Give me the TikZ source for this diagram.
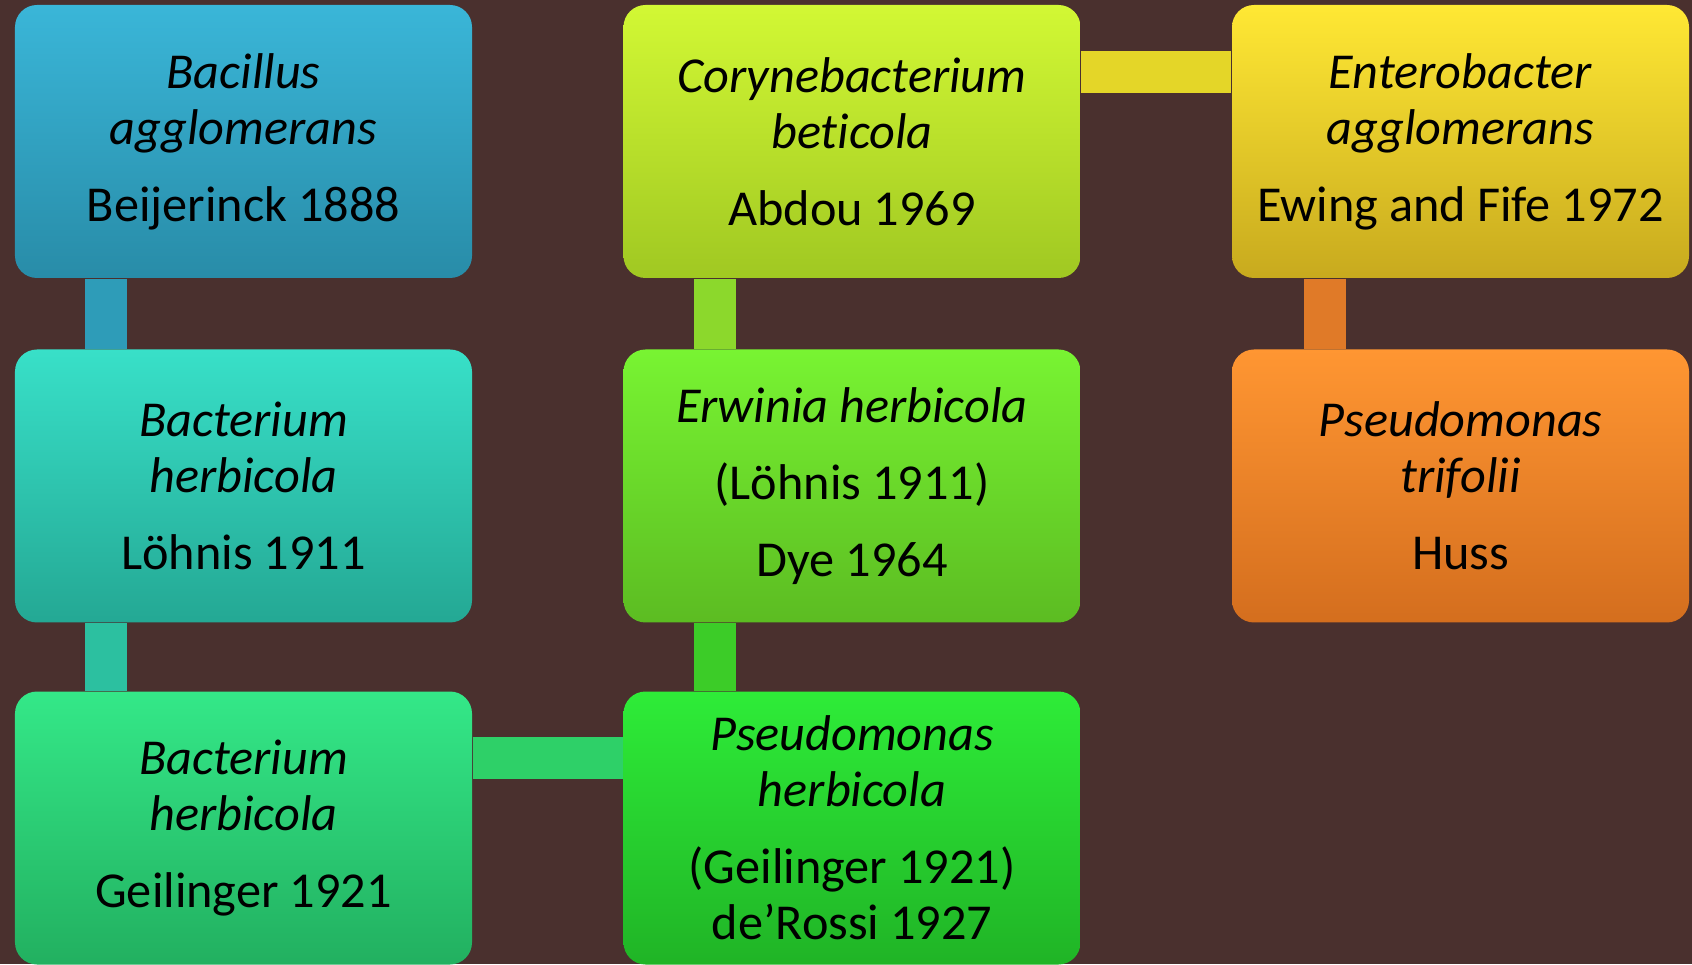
\documentclass[tikz,border=0pt]{standalone}
\usepackage{fontspec}
\setmainfont{Carlito}[RawFeature={-liga;-clig;-calt}]
\definecolor{bgbrown}{HTML}{4A302E}
\definecolor{blueT}{HTML}{3AB6D8}\definecolor{blueB}{HTML}{288CA8}
\definecolor{tealT}{HTML}{38E0C8}\definecolor{tealB}{HTML}{24A894}
\definecolor{mintT}{HTML}{34E888}\definecolor{mintB}{HTML}{22B060}
\definecolor{grnT}{HTML}{2EEC38}\definecolor{grnB}{HTML}{20B426}
\definecolor{limeT}{HTML}{78F432}\definecolor{limeB}{HTML}{5CBC22}
\definecolor{chartT}{HTML}{D2F834}\definecolor{chartB}{HTML}{A0C822}
\definecolor{yelT}{HTML}{FFE834}\definecolor{yelB}{HTML}{C8AA1E}
\definecolor{orT}{HTML}{FF9632}\definecolor{orB}{HTML}{D46E1E}
\tikzset{
  box/.style={rounded corners=0.22cm, minimum width=4.57cm, minimum height=2.73cm,
    inner sep=0pt, text width=4.4cm, align=center,
    font=\fontsize{14.3}{16}\selectfont,
    execute at begin node={\spaceskip=0.22em\relax}},
  link/.style={line width=0.42cm}
}
\begin{document}
\begin{tikzpicture}
  \fill[bgbrown] (0,0) rectangle (16.92,9.64);
  \useasboundingbox (0,0) rectangle (16.92,9.64);

  % first column
  \node[box, top color=blueT, bottom color=blueB] (bacillus) at (2.435,8.225)
    {\textit{Bacillus}\\\textit{agglomerans}\\[5.9pt]Beijerinck 1888};
  \node[box, top color=tealT, bottom color=tealB] (bactA) at (2.435,4.78)
    {\textit{Bacterium}\\\textit{herbicola}\\[5.9pt]Löhnis 1911};
  \node[box, top color=mintT, bottom color=mintB] (bactB) at (2.435,1.36)
    {\textit{Bacterium}\\\textit{herbicola}\\[5.9pt]Geilinger 1921};

  % second column
  \node[box, top color=chartT, bottom color=chartB] (coryne) at (8.52,8.225)
    {\textit{Corynebacterium}\\\textit{bet\kern0pt icola}\\[5.9pt]Abdou 1969};
  \node[box, top color=limeT, bottom color=limeB] (erwinia) at (8.52,4.78)
    {\textit{Erwinia herbicola}\\[5.9pt](Löhnis 1911)\\[5.9pt]Dye 1964};
  \node[box, top color=grnT, bottom color=grnB] (pseudoH) at (8.52,1.36)
    {\textit{Pseudomonas}\\\textit{herbicola}\\[5.9pt](Geilinger 1921)\\de’Rossi 1927};

  % third column
  \node[box, top color=yelT, bottom color=yelB] (entero) at (14.605,8.225)
    {\textit{Enterobacter}\\\textit{agglomerans}\\[5.9pt]Ewing and Fife 1972};
  \node[box, top color=orT, bottom color=orB] (pseudoT) at (14.605,4.78)
    {\textit{Pseudomonas}\\\textit{trifolii}\\[5.9pt]Huss};

  % connectors
  \draw[link, color={rgb,255:red,46;green,156;blue,184}]
    ([xshift=0.915cm]bacillus.south west) -- ([xshift=0.915cm]bactA.north west);
  \draw[link, color={rgb,255:red,44;green,192;blue,160}]
    ([xshift=0.915cm]bactA.south west) -- ([xshift=0.915cm]bactB.north west);
  \draw[link, color={rgb,255:red,46;green,208;blue,104}]
    ([yshift=-0.67cm]bactB.north east) -- ([yshift=-0.67cm]pseudoH.north west);
  \draw[link, color={rgb,255:red,60;green,204;blue,40}]
    ([xshift=0.92cm]pseudoH.north west) -- ([xshift=0.92cm]erwinia.south west);
  \draw[link, color={rgb,255:red,140;green,216;blue,44}]
    ([xshift=0.92cm]erwinia.north west) -- ([xshift=0.92cm]coryne.south west);
  \draw[link, color={rgb,255:red,228;green,214;blue,40}]
    ([yshift=-0.68cm]coryne.north east) -- ([yshift=-0.68cm]entero.north west);
  \draw[link, color={rgb,255:red,224;green,122;blue,40}]
    ([xshift=0.94cm]entero.south west) -- ([xshift=0.94cm]pseudoT.north west);
\end{tikzpicture}
\end{document}
